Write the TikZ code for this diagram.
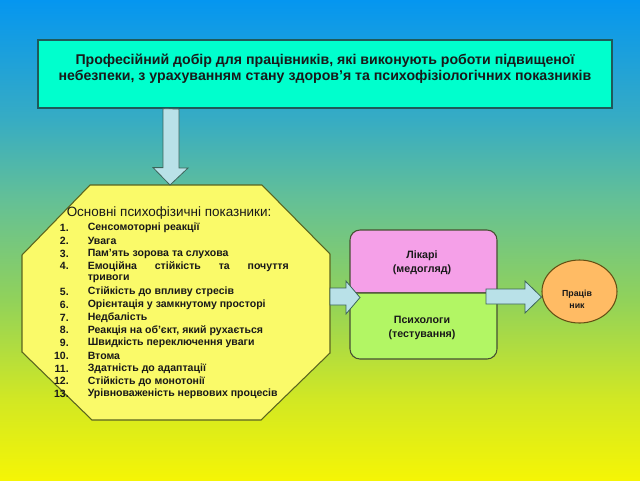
\documentclass[tikz,border=0pt]{standalone}
\usepackage{fontspec}
\setmainfont{Liberation Sans}
\usetikzlibrary{shapes.geometric,calc}
\definecolor{cA}{RGB}{245,245,5}
\definecolor{cB}{RGB}{210,232,35}
\definecolor{cC}{RGB}{145,210,90}
\definecolor{cD}{RGB}{100,192,150}
\definecolor{cE}{RGB}{55,172,195}
\definecolor{cF}{RGB}{5,150,240}
\definecolor{topfill}{RGB}{0,255,205}
\definecolor{topline}{RGB}{30,90,90}
\definecolor{arrfill}{RGB}{185,225,232}
\definecolor{arrline}{RGB}{60,100,90}
\definecolor{octfill}{RGB}{250,250,105}
\definecolor{octline}{RGB}{90,100,30}
\definecolor{pinkfill}{RGB}{245,160,232}
\definecolor{greenfill}{RGB}{178,246,100}
\definecolor{boxline}{RGB}{70,80,50}
\definecolor{ellfill}{RGB}{255,187,100}
\definecolor{ellline}{RGB}{100,80,20}
\definecolor{txt}{RGB}{25,25,25}
\pgfdeclareverticalshading{bgsh}{100bp}{color(0bp)=(cA); color(25bp)=(cA); color(33.33bp)=(cB); color(43.75bp)=(cC); color(54.17bp)=(cD); color(62.5bp)=(cE); color(75bp)=(cF); color(100bp)=(cF)}
\begin{document}
\begin{tikzpicture}[x=0.75pt,y=-0.75pt,
  topbox/.style={draw=topline,fill=topfill,line width=0.9pt,minimum width=430.5pt,minimum height=51pt,inner sep=0pt},
  toptext/.style={text=txt,align=center,font=\bfseries\fontsize{10.6}{12}\selectfont,inner sep=0pt},
  blockarrow/.style={draw=arrline,fill=arrfill,line width=0.6pt,line join=miter},
  octo/.style={draw=octline,fill=octfill,line width=0.8pt},
  ttl/.style={text=txt,font=\fontsize{10.1}{11}\selectfont,inner sep=0pt,anchor=west},
  num/.style={text=txt,font=\bfseries\fontsize{7.9}{9}\selectfont,inner sep=0pt,anchor=east},
  item/.style={text=txt,font=\bfseries\fontsize{7.9}{9}\selectfont,inner sep=0pt,anchor=west},
  boxtext/.style={text=txt,align=center,font=\bfseries\fontsize{8}{10.5}\selectfont,inner sep=0pt},
  ell/.style={ellipse,draw=ellline,fill=ellfill,line width=0.8pt,minimum width=56.25pt,minimum height=47.25pt,inner sep=0pt},
  elltext/.style={text=txt,align=center,font=\bfseries\fontsize{6.6}{9}\selectfont,inner sep=0pt}
]
\useasboundingbox (0,0) rectangle (640,480);
\fill[shading=bgsh] (0,0) rectangle (640,480);

% top box
\node[topbox] (top) at (325,74) {};
\node[toptext] (toptxt) at (325,68.5) {Професійний добір для працівників, які виконують роботи підвищеної\\небезпеки, з урахуванням стану здоров’я та психофізіологічних показників};

% octagon
\coordinate (octtop) at (170,185);
\coordinate (octright) at (330,297);
\draw[octo] (90,185) -- (262,185) -- (330,254) -- (330,353) -- (261,420) -- (92,420) -- (22,352) -- (22,255) -- cycle;

% down arrow
\draw[blockarrow] ($(top.south)+(-162,0)$) coordinate (da) -- ++(0,59) -- ++(-10,0) -- (octtop) -- ++(18,-17) -- ++(-9,0) -- ++(0,-59) -- cycle;

% list
\node[ttl] (ltitle) at (66.5,213) {Основні психофізичні показники:};
\foreach \nm/\yy/\tx in {1/228/{Сенсомоторні реакції},2/240.8/{Увага},3/253.5/{Пам’ять зорова та слухова},5/291.9/{Стійкість до впливу стресів},6/304.6/{Орієнтація у замкнутому просторі},7/317.4/{Недбалість},8/330.2/{Реакція на об’єкт, який рухається},9/342.9/{Швидкість переключення уваги},10/355.7/{Втома},11/368.4/{Здатність до адаптації},12/381.2/{Стійкість до монотонії},13/394/{Урівноваженість нервових процесів}}{
  \node[num] (n\nm) at (69,\yy) {\nm.};
  \node[item] (i\nm) at (87.5,\yy) {\tx};
}
\node[num] (n4) at (69,266.3) {4.};
\node[item] (i4) at (87.5,266.3) {\makebox[150.75pt][s]{Емоційна стійкість та почуття}};
\node[item] (i4b) at (87.5,279.1) {тривоги};

% boxes
\draw[draw=boxline,fill=pinkfill,line width=0.8pt] (350,293) [rounded corners=7.5pt] -- (350,230) -- (497,230) [sharp corners] -- (497,293) -- cycle;
\draw[draw=boxline,fill=greenfill,line width=0.8pt] (350,293) [rounded corners=7.5pt] -- (350,359) -- (497,359) [sharp corners] -- (497,293) -- cycle;
\node[boxtext] (likari) at (422,263) {Лікарі\\(медогляд)};
\node[boxtext] (psych) at (422,327.5) {Психологи\\(тестування)};

% ellipse
\node[ell] (worker) at (579.5,291.5) {};
\node[elltext] (workertxt) at (577,299) {Праців\\ник};

% arrow octagon -> boxes
\draw[blockarrow] (octright) ++(0,-9) -- ++(16,0) -- ++(0,-7) -- (360,297.5) -- (346,314) -- ++(0,-9) -- (330,305) -- cycle;

% arrow boxes -> worker
\draw[blockarrow] (486,289) -- (525,289) -- (525,281) -- ($(worker.west)+(0,5.5)$) -- (525,313) -- (525,304) -- (486,304) -- cycle;
\end{tikzpicture}
\end{document}
